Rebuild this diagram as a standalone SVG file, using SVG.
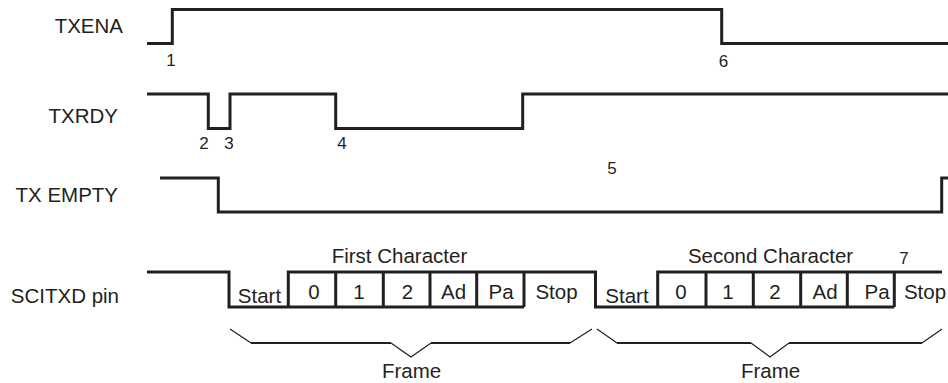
<svg xmlns="http://www.w3.org/2000/svg" width="948" height="383" viewBox="0 0 948 383">
<style>
.w{fill:none;stroke:#231f20;stroke-width:3;stroke-linejoin:miter;stroke-linecap:butt}
.b{fill:none;stroke:#231f20;stroke-width:2.2}
.d{fill:none;stroke:#231f20;stroke-width:1.2}
.t{font-family:"Liberation Sans",Arial,sans-serif;font-size:20.5px;fill:#231f20}
.n{font-family:"Liberation Sans",Arial,sans-serif;font-size:17px;fill:#231f20;text-anchor:middle}
.l{text-anchor:end}
.c{text-anchor:middle}
</style>
<rect width="948" height="383" fill="#fff"/>
<g id="txena">
<text class="t l" x="123" y="33">TXENA</text>
<path class="w" d="M147,43.5 H172.3 V9.5 H721.7 V43.5 H948"/>
<text class="n" x="171" y="66">1</text>
<text class="n" x="723.5" y="67">6</text>
</g>
<g id="txrdy">
<text class="t l" x="118" y="123">TXRDY</text>
<path class="w" d="M147,94 H208.3 V128.5 H230 V94 H335.7 V128.5 H522.7 V94 H948"/>
<text class="n" x="204" y="149">2</text>
<text class="n" x="229" y="149">3</text>
<text class="n" x="342" y="149">4</text>
</g>
<g id="txempty">
<text class="t l" x="118" y="202">TX EMPTY</text>
<path class="w" d="M160,178 H218.3 V212 H941.7 V178 H948"/>
<text class="n" x="612" y="174">5</text>
</g>
<g id="scitxd">
<text class="t l" x="119" y="303">SCITXD pin</text>
<path class="w" d="M147,272 H229 V307 H524"/>
<path class="w" d="M288.3,307 V272 H595.5 V307 H894.3"/>
<path class="w" d="M657.7,307 V272 H942"/>
<path class="w" d="M335.7,272 V307 M383.3,272 V307 M430,272 V307 M476.7,272 V307 M524,272 V307"/>
<path class="w" d="M706,272 V307 M753.3,272 V307 M800.7,272 V307 M847.3,272 V307 M894.3,272 V307"/>
<text class="t c" x="399.5" y="263">First Character</text>
<text class="t c" x="770.5" y="263">Second Character</text>
<text class="n" x="904" y="264">7</text>
<text class="t c" x="259.5" y="303">Start</text>
<text class="t c" x="314" y="299">0</text>
<text class="t c" x="359" y="299">1</text>
<text class="t c" x="407.5" y="299">2</text>
<text class="t c" x="453.5" y="299">Ad</text>
<text class="t c" x="501" y="299">Pa</text>
<text class="t c" x="556.5" y="299">Stop</text>
<text class="t c" x="627" y="303">Start</text>
<text class="t c" x="681" y="299">0</text>
<text class="t c" x="728" y="299">1</text>
<text class="t c" x="775" y="299">2</text>
<text class="t c" x="825" y="299">Ad</text>
<text class="t c" x="877" y="299">Pa</text>
<text class="t c" x="925" y="299">Stop</text>
</g>
<g id="braces">
<path class="d" d="M230,329 L251,343 M391,343 L411,357 L431,343 M570,343 L592,329"/>
<path class="b" d="M251,343 H391 M431,343 H570"/>
<path class="d" d="M597,329 L617,343 M751,343 L770,357 L789,343 M922,343 L942,329"/>
<path class="b" d="M617,343 H751 M789,343 H922"/>
<text class="t c" x="411.5" y="378">Frame</text>
<text class="t c" x="770.5" y="378">Frame</text>
</g>
</svg>
